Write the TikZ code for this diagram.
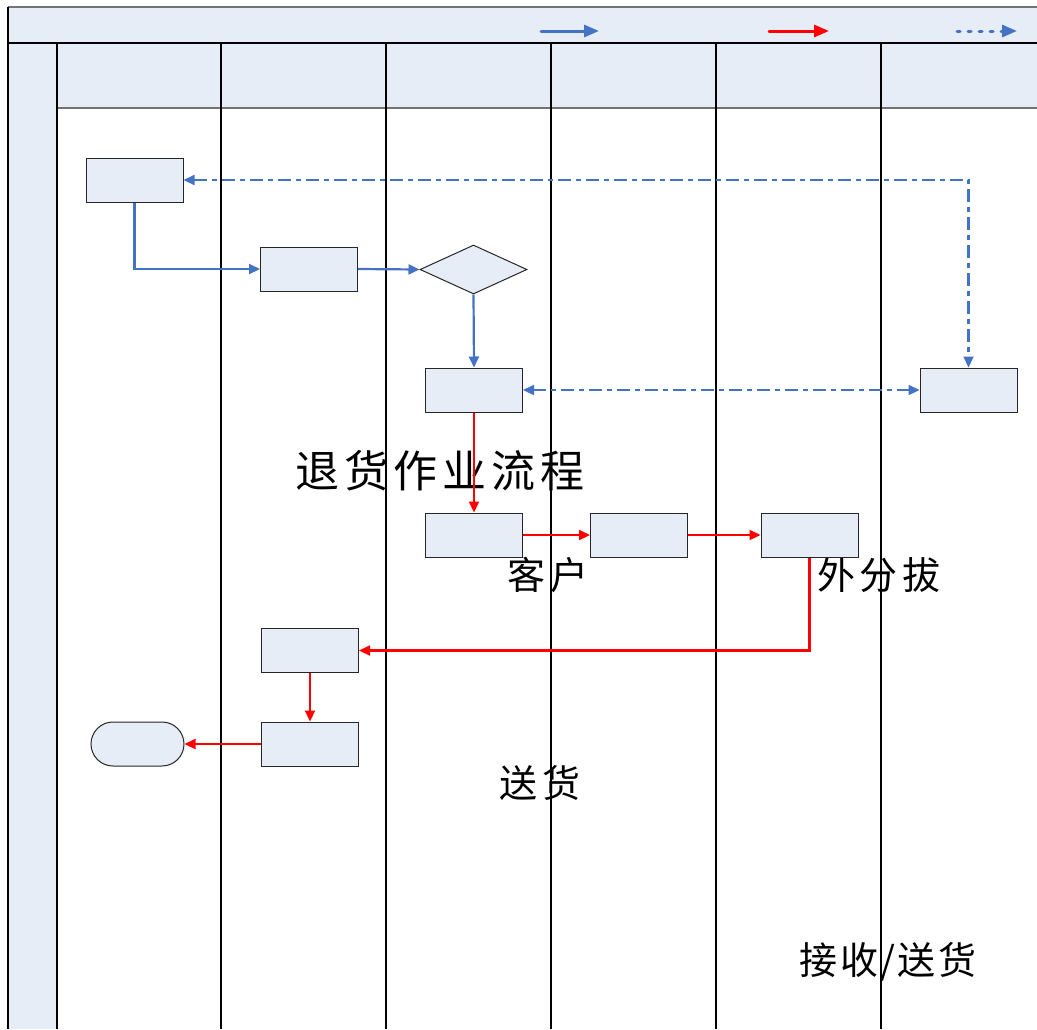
\documentclass[tikz,border=0pt]{standalone}
\usepackage{fontspec}
\newfontfamily\cjk{Noto Sans CJK SC}
\newfontfamily\cjkwide[LetterSpace=12]{Noto Sans CJK SC}
\newfontfamily\cjknarrow[LetterSpace=6]{Noto Sans CJK SC}
\newfontfamily\cjktitle[LetterSpace=11]{Noto Sans CJK SC}
\usetikzlibrary{arrows.meta,shapes.geometric,shapes.misc}
\definecolor{lane}{RGB}{230,237,247}
\definecolor{flowblue}{RGB}{68,114,196}
\definecolor{flowred}{RGB}{255,0,0}
\tikzset{
  procbox/.style={draw=black!85, fill=lane, line width=1pt, minimum width=97pt, minimum height=44pt, inner sep=0pt},
  decbox/.style={draw=black!85, fill=lane, line width=1pt, diamond, minimum width=107pt, minimum height=49pt, inner sep=0pt},
  termbox/.style={draw=black!85, fill=lane, line width=1pt, rounded rectangle, minimum width=93pt, minimum height=44pt, inner sep=0pt},
  blueflow/.style={draw=flowblue, line width=2.2pt, -{Triangle[length=11pt,width=10pt]}},
  redflow/.style={draw=flowred, line width=2.2pt, -{Triangle[length=11pt,width=10pt]}},
  dashflow/.style={draw=flowblue, line width=2.2pt, dash pattern=on 13pt off 5pt on 5pt off 5pt, {Triangle[length=11pt,width=10pt]}-{Triangle[length=11pt,width=10pt]}},
  laneline/.style={draw=black, line width=1.2pt},
  lbl/.style={inner sep=0pt, font=\cjkwide\fontsize{38}{44}\selectfont},
}
\begin{document}
\begin{tikzpicture}[x=1pt,y=-1pt]
\useasboundingbox (0,0) rectangle (1037,1029);
% fills
\fill[lane] (8,7) rectangle (1037,43);
\fill[lane] (57,43) rectangle (1037,108);
\fill[lane] (8,43) rectangle (57,1029);
% frame lines
\draw[draw=black!55, line width=1.5pt] (8,7) -- (1037,7);
\draw[draw=black!55, line width=2.5pt] (57,108) -- (1037,108);
\draw[draw=black, line width=2.5pt] (8,7) -- (8,1029);
\draw[draw=black, line width=2.5pt] (8,43) -- (1037,43);
\foreach \xx in {57,221,386,551,716,881} \draw[laneline] (\xx,43) -- (\xx,1029);
% legend
\coordinate (l1a) at (541,31); \coordinate (l1b) at (599,31);
\coordinate (l2a) at (769,31); \coordinate (l2b) at (829,31);
\coordinate (l3a) at (957,31); \coordinate (l3b) at (1017,31);
\draw[draw=flowblue, line width=3pt, line cap=round, -{Triangle[length=15pt,width=12pt]}] (l1a) -- (l1b);
\draw[draw=flowred, line width=3pt, line cap=round, -{Triangle[length=15pt,width=12pt]}] (l2a) -- (l2b);
\draw[draw=flowblue, line width=3pt, line cap=round, dash pattern=on 3pt off 8pt, -{Triangle[length=15pt,width=12pt]}] (l3a) -- (l3b);
% texts
\node[inner sep=0pt, font=\cjktitle\fontsize{44}{50}\selectfont] (title) at (440,471) {退货作业流程};
\node[lbl] (t1) at (548,575) {客户};
\node[lbl] (t2) at (879,575) {外分拔};
\node[lbl] (t3) at (540,783) {送货};
\node[inner sep=0pt, font=\cjknarrow\fontsize{38}{44}\selectfont] (t4) at (888,962) {接收/送货};
% nodes
\node[procbox] (A) at (134.5,180) {};
\node[procbox] (B) at (309,269) {};
\node[decbox] (Dc) at (473.5,269.5) {};
\node[procbox] (C) at (474,390) {};
\node[procbox] (D) at (968.5,390) {};
\node[procbox] (E) at (474,535) {};
\node[procbox] (F) at (639,535) {};
\node[procbox] (G) at (809.5,535) {};
\node[procbox] (H) at (310,650.5) {};
\node[procbox] (I) at (310,744) {};
\node[termbox] (J) at (137.5,744) {};
% connectors
\draw[blueflow] (A.south) |- (B.west);
\draw[blueflow] (B.east) -- (Dc.west);
\draw[blueflow] (Dc.south) -- (C.north);
\draw[dashflow] (A.east) -| (D.north);
\draw[dashflow] (C.east) -- (D.west);
\draw[redflow] (C.south) -- (E.north);
\draw[redflow] (E.east) -- (F.west);
\draw[redflow] (F.east) -- (G.west);
\draw[redflow] (G.south) |- (H.east);
\draw[redflow] (H.south) -- (I.north);
\draw[redflow] (I.west) -- (J.east);
\end{tikzpicture}
\end{document}
